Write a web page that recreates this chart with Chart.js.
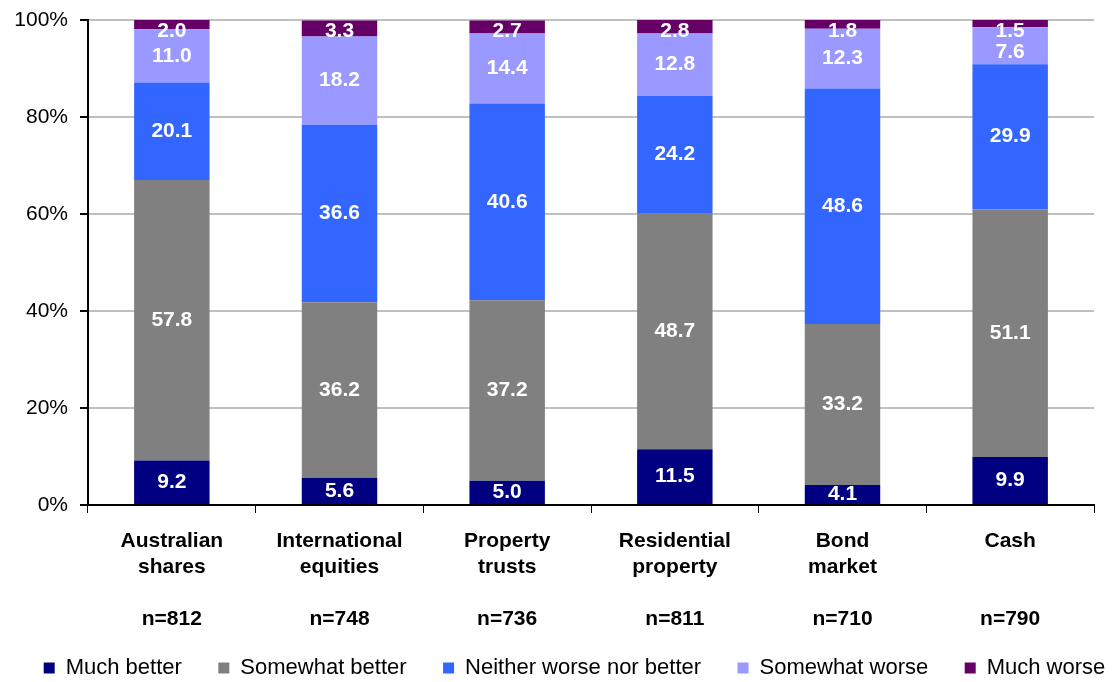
<html>
<head>
    <title>Outlook by asset class</title>
    <script src="https://cdn.jsdelivr.net/npm/chart.js@4"></script>
    <style>
        body { margin: 0; background: #fff; }
        #wrap { width: 1116px; height: 682px; }
    </style>
</head>
<body>
<div id="wrap"><canvas id="myChart"></canvas></div>
<script>
    // category labels (name lines, blank, sample size)
    var categories = [
        ["Australian", "shares", "", "n=812"],
        ["International", "equities", "", "n=748"],
        ["Property", "trusts", "", "n=736"],
        ["Residential", "property", "", "n=811"],
        ["Bond", "market", "", "n=710"],
        ["Cash", "", "", "n=790"]
    ];
    var seriesNames = ["Much better", "Somewhat better", "Neither worse nor better", "Somewhat worse", "Much worse"];
    var muchBetter = [9.2, 5.6, 5.0, 11.5, 4.1, 9.9];
    var somewhatBetter = [57.8, 36.2, 37.2, 48.7, 33.2, 51.1];
    var neither = [20.1, 36.6, 40.6, 24.2, 48.6, 29.9];
    var somewhatWorse = [11.0, 18.2, 14.4, 12.8, 12.3, 7.6];
    var muchWorse = [2.0, 3.3, 2.7, 2.8, 1.8, 1.5];
    var yTicks = [0, 20, 40, 60, 80, 100];

    var colors = ["#000080", "#808080", "#3366ff", "#9999ff", "#660066"];
    var allSeries = [muchBetter, somewhatBetter, neither, somewhatWorse, muchWorse];

    Chart.defaults.font.family = "'Liberation Sans', Arial, sans-serif";
    Chart.defaults.color = "#000";

    // white value labels in the middle of each segment, nudged down so they don't collide
    var segmentLabels = {
        id: 'segmentLabels',
        afterDatasetsDraw: function (chart) {
            var ctx = chart.ctx;
            var n = chart.data.labels.length;
            var last = chart.data.datasets.length - 1;
            ctx.save();
            ctx.fillStyle = '#fff';
            ctx.font = "bold 21px 'Liberation Sans', Arial, sans-serif";
            ctx.textAlign = 'center';
            ctx.textBaseline = 'middle';
            for (var j = 0; j < n; j++) {
                var prev = chart.chartArea.top - 10;
                // go from the top segment down
                for (var i = last; i >= 0; i--) {
                    var bar = chart.getDatasetMeta(i).data[j];
                    var y = Math.max((bar.y + bar.base) / 2, prev + 21);
                    ctx.fillText(chart.data.datasets[i].data[j].toFixed(1), bar.x, y);
                    prev = y;
                }
            }
            ctx.restore();
        }
    };

    var ctx = document.getElementById('myChart').getContext('2d');
    var chart = new Chart(ctx, {
        type: 'bar',
        data: {
            labels: categories,
            datasets: seriesNames.map(function (name, i) {
                return {
                    label: name,
                    data: allSeries[i],
                    backgroundColor: colors[i],
                    borderWidth: 0,
                    categoryPercentage: 1.0,
                    barPercentage: 0.45,
                    yAxisID: 'y'
                };
            })
        },
        options: {
            responsive: true,
            maintainAspectRatio: false,
            animation: false,
            // legend sits a little right of centre, so the right padding is negative
            // and an empty right axis brings the plot edge back in
            layout: { padding: { left: 10, right: -23, top: 20, bottom: -7 } },
            plugins: {
                tooltip: { enabled: false },
                legend: {
                    position: 'bottom',
                    labels: {
                        boxWidth: 11,
                        boxHeight: 11,
                        padding: 12,
                        font: { size: 22 },
                        // extra trailing space widens the gap between entries (not after the last)
                        generateLabels: function (chart) {
                            var items = Chart.defaults.plugins.legend.labels.generateLabels(chart);
                            items.forEach(function (it, k) {
                                if (k < items.length - 1) it.text = it.text + '    ';
                            });
                            return items;
                        }
                    }
                }
            },
            scales: {
                x: {
                    stacked: true,
                    afterFit: function (scale) {
                        scale.height = 140;
                        scale.paddingLeft = 0;
                        scale.paddingRight = 0;
                    },
                    grid: {
                        offset: true,
                        drawOnChartArea: false,
                        color: '#000',
                        tickLength: 8
                    },
                    border: { color: '#000', width: 2 },
                    ticks: {
                        maxRotation: 0,
                        autoSkip: false,
                        padding: 15,
                        font: { size: 21, weight: 'bold', lineHeight: '26px' }
                    }
                },
                y: {
                    stacked: true,
                    min: 0,
                    max: 100,
                    afterBuildTicks: function (axis) {
                        axis.ticks = yTicks.map(function (v) { return { value: v }; });
                    },
                    afterFit: function (scale) {
                        scale.width = 78;
                        scale.paddingTop = 0;
                        scale.paddingBottom = 0;
                    },
                    grid: {
                        color: '#c0c0c0',
                        lineWidth: 2,
                        tickColor: '#000',
                        tickLength: 8
                    },
                    border: { color: '#000', width: 2 },
                    ticks: {
                        padding: 12,
                        font: { size: 21 },
                        callback: function (v) { return v + '%'; }
                    }
                },
                yr: {
                    position: 'right',
                    min: 0,
                    max: 1,
                    grid: { display: false, drawTicks: false },
                    border: { display: false },
                    ticks: { display: false },
                    afterFit: function (scale) {
                        scale.width = 45;
                        scale.paddingTop = 0;
                        scale.paddingBottom = 0;
                    }
                }
            }
        },
        plugins: [segmentLabels]
    });
</script>
</body>
</html>
